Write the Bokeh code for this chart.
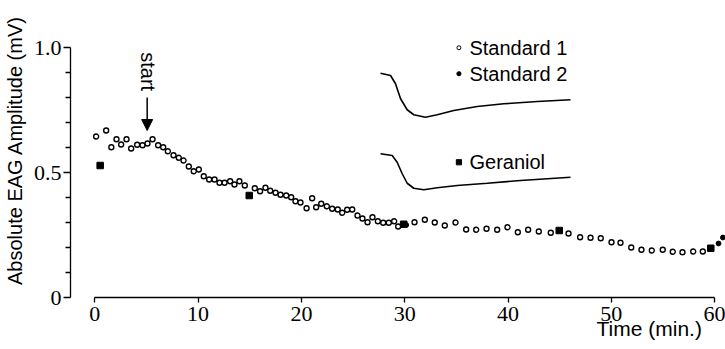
import math
from bokeh.plotting import figure
from bokeh.models import FixedTicker, Label, Arrow, NormalHead, Range1d
from bokeh.embed import file_html
from bokeh.resources import INLINE

# ---------------- data ----------------
std1_t = [0.13, 1.1, 1.6, 2.1, 2.55, 3.07, 3.52, 4.1, 4.62, 5.1, 5.59, 6.13, 6.62, 7.07,
          7.62, 8.13, 8.59, 9.1, 9.58, 10.07, 10.55, 11.07, 11.59, 12.07, 12.56, 13.1,
          13.52, 14.0, 14.52, 15.49, 16.0, 16.52, 16.98, 17.5, 17.98, 18.53, 19.01, 19.43,
          19.91, 20.5, 21.04, 21.43, 21.92, 22.46, 22.98, 23.52, 23.95, 24.43, 24.92, 25.43,
          25.91, 26.4, 26.88, 27.4, 27.92, 28.46, 28.98, 29.37, 30.95, 31.95, 32.91, 33.88,
          34.92, 35.95, 36.92, 37.92, 38.95, 39.95, 40.95, 41.95, 42.98, 44.14, 45.86, 46.98,
          47.99, 48.98, 50.02, 50.89, 51.93, 52.92, 53.92, 54.98, 55.95, 56.89, 57.93, 58.86]
std1_v = [0.644, 0.668, 0.601, 0.633, 0.612, 0.633, 0.596, 0.611, 0.609, 0.616, 0.633, 0.609,
          0.601, 0.585, 0.569, 0.559, 0.548, 0.524, 0.505, 0.512, 0.485, 0.472, 0.472, 0.459,
          0.459, 0.465, 0.452, 0.465, 0.448, 0.437, 0.425, 0.439, 0.427, 0.419, 0.411, 0.408,
          0.401, 0.385, 0.38, 0.357, 0.397, 0.361, 0.375, 0.365, 0.355, 0.352, 0.339, 0.351,
          0.352, 0.328, 0.316, 0.301, 0.321, 0.305, 0.299, 0.299, 0.305, 0.284, 0.301, 0.311,
          0.3, 0.288, 0.3, 0.272, 0.271, 0.275, 0.271, 0.281, 0.261, 0.271, 0.264, 0.259,
          0.256, 0.241, 0.239, 0.237, 0.221, 0.219, 0.2, 0.191, 0.188, 0.191, 0.183, 0.181,
          0.184, 0.184]

std2_t = [30.15, 60.38, 60.8]
std2_v = [0.29, 0.216, 0.24]

ger_t = [0.52, 14.95, 29.9, 44.96, 59.63]
ger_v = [0.528, 0.408, 0.293, 0.268, 0.197]

# example EAG traces (inset)
trace1_t = [27.66, 28.63, 29.11, 29.6, 30.24, 30.88, 32.01, 33.15, 34.75, 37.02, 39.59, 42.83, 46.05]
trace1_v = [0.897, 0.888, 0.855, 0.795, 0.751, 0.731, 0.721, 0.731, 0.748, 0.764, 0.775, 0.784, 0.791]
trace2_t = [27.66, 28.79, 29.27, 29.76, 30.24, 30.88, 31.85, 33.15, 35.08, 37.99, 41.21, 46.05]
trace2_v = [0.575, 0.568, 0.541, 0.495, 0.457, 0.437, 0.431, 0.439, 0.448, 0.457, 0.468, 0.481]

x_ticks = [0, 10, 20, 30, 40, 50, 60]
y_ticks = [0, 0.5, 1.0]
y_minor = [0.1, 0.2, 0.3, 0.4, 0.6, 0.7, 0.8, 0.9]
y_tick_labels = {0: "0", 0.5: "0.5", 1: "1.0"}
start_time = 5.07

FONT = "Liberation Sans"
TICKFONT = "Liberation Sans Narrow"

X0, X1 = -9.129, 61.055
Y0, Y1 = -0.208, 1.188
YAXIS_AT = -2.352

p = figure(width=725, height=349, output_backend="svg", toolbar_location=None,
           x_range=Range1d(X0, X1), y_range=Range1d(Y0, Y1),
           min_border_left=0, min_border_right=0, min_border_top=0, min_border_bottom=0)
p.outline_line_color = None
p.xgrid.visible = False
p.ygrid.visible = False
p.background_fill_color = "white"
p.border_fill_color = "white"

# x axis (drawn at v = 0)
xa = p.xaxis[0]
xa.fixed_location = 0
xa.ticker = FixedTicker(ticks=x_ticks)
xa.bounds = (0, 60)
xa.major_tick_out = 5
xa.major_tick_in = 0
xa.minor_tick_out = 0
xa.minor_tick_in = 0
xa.axis_line_width = 1.3
xa.major_tick_line_width = 1.3
xa.axis_line_color = "black"
xa.major_tick_line_color = "black"
xa.major_label_text_font = TICKFONT
xa.major_label_text_font_size = "22px"
xa.major_label_text_color = "black"
xa.major_label_standoff = 4

# y axis
ya = p.yaxis[0]
ya.fixed_location = YAXIS_AT
ya.ticker = FixedTicker(ticks=y_ticks, minor_ticks=y_minor)
ya.bounds = (0, 1)
ya.major_tick_out = 7
ya.major_tick_in = 0
ya.minor_tick_out = 5
ya.minor_tick_in = 0
ya.axis_line_width = 1.3
ya.major_tick_line_width = 1.3
ya.minor_tick_line_width = 1.3
ya.axis_line_color = "black"
ya.major_tick_line_color = "black"
ya.minor_tick_line_color = "black"
ya.major_label_overrides = y_tick_labels
ya.major_label_text_font = TICKFONT
ya.major_label_text_font_size = "22px"
ya.major_label_text_color = "black"
ya.major_label_standoff = 2

# axis titles
p.add_layout(Label(x=-7.68, y=0.588, text="Absolute EAG Amplitude (mV)", angle=math.pi / 2,
                   text_font=FONT, text_font_size="20px", text_align="center",
                   text_baseline="middle", text_color="black"))
p.add_layout(Label(x=48.57, y=-0.122, text="Time (min.)", text_font=FONT,
                   text_font_size="21px", text_baseline="middle", text_align="left",
                   text_color="black"))

# inset traces
p.line(trace1_t, trace1_v, line_color="black", line_width=1.6)
p.line(trace2_t, trace2_v, line_color="black", line_width=1.6)

# data
p.scatter(std1_t, std1_v, marker="circle", size=5, fill_color="white",
          line_color="black", line_width=1.35)
p.scatter(ger_t, ger_v, marker="square", size=6.5, fill_color="black", line_color="black")
p.scatter(std2_t, std2_v, marker="circle", size=4.8, fill_color="black", line_color="black")

# legend (manual)
lx, tx = 35.25, 36.27
p.scatter([lx], [0.999], marker="circle", size=4, fill_color="white", line_color="black", line_width=1.0)
p.scatter([lx], [0.895], marker="circle", size=4.2, fill_color="black", line_color="black")
p.scatter([lx], [0.541], marker="square", size=5.2, fill_color="black", line_color="black")
for yy, txt in [(0.999, "Standard 1"), (0.895, "Standard 2"), (0.541, "Geraniol")]:
    p.add_layout(Label(x=tx, y=yy, text=txt, text_font=FONT, text_font_size="20px",
                       text_baseline="middle", text_align="left", text_color="black"))

# start arrow
p.add_layout(Arrow(end=NormalHead(size=11, fill_color="black", line_color="black"),
                   x_start=start_time, y_start=0.80, x_end=start_time, y_end=0.668,
                   line_width=1.5, line_color="black"))
p.add_layout(Label(x=start_time + 0.12, y=0.981, text="start", angle=-math.pi / 2,
                   text_font=FONT, text_font_size="20px", text_baseline="middle",
                   text_align="left", text_color="black"))

open("out.html", "w").write(file_html(p, INLINE))
